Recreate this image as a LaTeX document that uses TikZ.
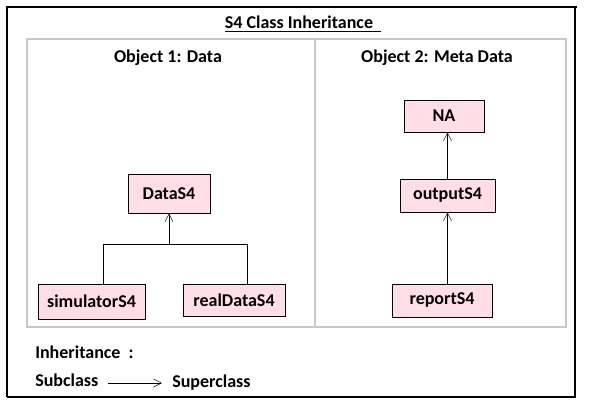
\documentclass[tikz,border=0pt]{standalone}
\usepackage{fontspec}
\setmainfont{Carlito}
\usetikzlibrary{arrows.meta}
\definecolor{classpink}{RGB}{255,222,232}
\definecolor{tablegray}{RGB}{200,200,200}
\tikzset{
  classbox/.style={draw=black,fill=classpink,inner sep=0pt,font=\fontsize{13.5}{16}\selectfont\bfseries},
  label/.style={inner sep=0pt,font=\fontsize{13.5}{16}\selectfont\bfseries},
  inherits/.style={-{Straight Barb[length=6pt,width=6pt]},thin}
}
\begin{document}
\begin{tikzpicture}[x=0.75pt,y=-0.75pt]
  \useasboundingbox (0,0) rectangle (592,405);
  % outer frame and table
  \draw[black,line width=1pt] (7,397) -- (7,7) -- (577,7);
  \draw[black,line width=1pt] (575,7) -- (575,397) -- (7,397);
  \draw[tablegray,line width=1.1pt] (27,39) rectangle (566,327);
  \draw[tablegray,line width=1.1pt] (315,39) -- (315,327);
  \node[label] (title) at (303,24) {\underline{S4 Class Inheritance\ \ }};
  \node[label] (obj1) at (168,58) {Object 1: Data};
  \node[label] (obj2) at (437,58) {Object 2: Meta Data};
  % object 1
  \node[classbox,minimum width=61.5pt,minimum height=29.25pt] (DataS4) at (169,193.5) {DataS4};
  \node[classbox,minimum width=80.25pt,minimum height=26.25pt] (simulatorS4) at (91.5,301.5) {simulatorS4};
  \node[classbox,minimum width=76.5pt,minimum height=24pt] (realDataS4) at (234,300) {realDataS4};
  \coordinate (leftbranch) at (103,244);
  \coordinate (rightbranch) at (247,244);
  \draw[thin] (simulatorS4.north -| leftbranch) -- (leftbranch) -- (rightbranch)
              -- (realDataS4.north -| rightbranch);
  \draw[inherits] (leftbranch -| DataS4.south) -- (DataS4.south);
  % object 2
  \node[classbox,minimum width=60pt,minimum height=24pt] (NA) at (444,116) {NA};
  \node[classbox,minimum width=71.25pt,minimum height=24.75pt] (outputS4) at (447.5,195.5) {outputS4};
  \node[classbox,minimum width=75pt,minimum height=24.75pt] (reportS4) at (442,300.5) {reportS4};
  \draw[inherits] (outputS4.north) -- (outputS4.north |- NA.south);
  \draw[inherits] (reportS4.north -| outputS4.south) -- (outputS4.south);
  % legend
  \node[label,anchor=west] (legend) at (35,352) {Inheritance\ \ :};
  \node[label,anchor=west] (sub) at (35,380) {Subclass};
  \node[label,anchor=west] (super) at (172,383) {Superclass};
  \coordinate (legstart) at (108,383);
  \coordinate (legend end) at (162,383);
  \draw[inherits] (legstart) -- (legend end);
\end{tikzpicture}
\end{document}
